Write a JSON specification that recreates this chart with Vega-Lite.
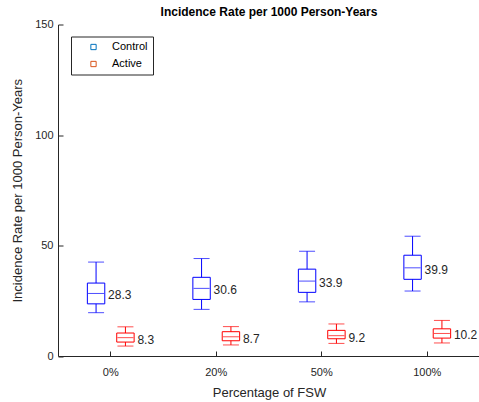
{
  "$schema": "https://vega.github.io/schema/vega-lite/v6.json",
  "autosize": "none",
  "padding": {"left": 58, "top": 24.5, "right": 0, "bottom": 46},
  "width": 422,
  "height": 331.5,
  "background": "white",
  "config": {
    "view": {"stroke": null},
    "font": "Liberation Sans",
    "axis": {"grid": false, "domainColor": "#262626", "tickColor": "#262626", "labelColor": "#262626", "titleColor": "#262626", "labelFontSize": 11, "titleFontSize": 13, "titleFontWeight": "normal", "labelFont": "Liberation Sans", "titleFont": "Liberation Sans"}
  },
  "title": {"text": "Incidence Rate per 1000 Person-Years", "fontSize": 12, "fontWeight": "bold", "color": "#000000", "offset": 0, "font": "Liberation Sans"},
  "data": {"values": [
    {"group": "Control", "pct": "0%", "lo": 19.6, "q1": 23.6, "med": 28.3, "q3": 33.0, "hi": 42.5, "label": "28.3"},
    {"group": "Control", "pct": "20%", "lo": 21.1, "q1": 25.6, "med": 30.6, "q3": 35.6, "hi": 44.1, "label": "30.6"},
    {"group": "Control", "pct": "50%", "lo": 24.5, "q1": 28.8, "med": 33.9, "q3": 39.3, "hi": 47.4, "label": "33.9"},
    {"group": "Control", "pct": "100%", "lo": 29.4, "q1": 34.7, "med": 39.9, "q3": 45.6, "hi": 54.2, "label": "39.9"},
    {"group": "Active", "pct": "0%", "lo": 4.5, "q1": 6.3, "med": 8.3, "q3": 10.4, "hi": 13.2, "label": "8.3"},
    {"group": "Active", "pct": "20%", "lo": 5.0, "q1": 6.9, "med": 8.7, "q3": 11.0, "hi": 13.3, "label": "8.7"},
    {"group": "Active", "pct": "50%", "lo": 5.7, "q1": 7.8, "med": 9.2, "q3": 11.6, "hi": 14.5, "label": "9.2"},
    {"group": "Active", "pct": "100%", "lo": 5.9, "q1": 8.1, "med": 10.2, "q3": 12.3, "hi": 16.1, "label": "10.2"}
  ]},
  "encoding": {
    "x": {"field": "pct", "type": "nominal", "sort": ["0%", "20%", "50%", "100%"],
      "scale": {"paddingInner": 0, "paddingOuter": 0},
      "axis": {"title": "Percentage of FSW", "labelAngle": 0, "tickSize": -5, "labelPadding": 15, "titlePadding": 9}},
    "xOffset": {"field": "group", "type": "nominal", "sort": ["Control", "Active"],
      "scale": {"domain": ["Control", "Active"], "paddingInner": 0.407, "paddingOuter": 1.157}}
  },
  "resolve": {"scale": {"color": "independent"}, "legend": {"color": "independent"}},
  "layer": [
    {
      "layer": [
        {
          "mark": {"type": "rule", "strokeWidth": 1},
          "encoding": {
            "y": {"field": "lo", "type": "quantitative", "scale": {"domain": [0, 150], "nice": false},
              "axis": {"title": "Incidence Rate per 1000 Person-Years", "values": [0, 50, 100, 150], "tickSize": -5, "labelPadding": 10, "titlePadding": 10}},
            "y2": {"field": "q1"},
            "color": {"field": "group", "type": "nominal", "scale": {"domain": ["Control", "Active"], "range": ["#0000ff", "#ff0000"]}, "legend": null}
          }
        },
        {
          "mark": {"type": "rule", "strokeWidth": 1},
          "encoding": {
            "y": {"field": "q3", "type": "quantitative"},
            "y2": {"field": "hi"},
            "color": {"field": "group", "type": "nominal", "legend": null}
          }
        },
        {
          "mark": {"type": "bar", "filled": false, "strokeWidth": 1},
          "encoding": {
            "y": {"field": "q1", "type": "quantitative"},
            "y2": {"field": "q3"},
            "color": {"field": "group", "type": "nominal", "legend": null}
          }
        },
        {
          "mark": {"type": "tick", "thickness": 1, "size": 16},
          "encoding": {
            "y": {"field": "med", "type": "quantitative"},
            "color": {"field": "group", "type": "nominal", "legend": null}
          }
        },
        {
          "mark": {"type": "tick", "thickness": 1, "size": 16},
          "encoding": {
            "y": {"field": "lo", "type": "quantitative"},
            "color": {"field": "group", "type": "nominal", "legend": null}
          }
        },
        {
          "mark": {"type": "tick", "thickness": 1, "size": 16},
          "encoding": {
            "y": {"field": "hi", "type": "quantitative"},
            "color": {"field": "group", "type": "nominal", "legend": null}
          }
        },
        {
          "mark": {"type": "text", "align": "left", "baseline": "middle", "dx": 12, "dy": 2, "fontSize": 12, "color": "#262626", "font": "Liberation Sans"},
          "encoding": {
            "y": {"field": "med", "type": "quantitative"},
            "text": {"field": "label"}
          }
        }
      ]
    },
    {
      "mark": {"type": "point", "filled": false, "shape": "square", "strokeWidth": 1, "opacity": 0},
      "encoding": {
        "y": {"field": "med", "type": "quantitative"},
        "color": {"field": "group", "type": "nominal", "scale": {"domain": ["Control", "Active"], "range": ["#0072BD", "#D95319"]},
          "legend": {"title": null, "orient": "none", "legendX": 13, "legendY": 12, "symbolType": "square", "symbolSize": 28, "symbolStrokeWidth": 1, "symbolOpacity": 1, "labelFontSize": 11, "labelColor": "#000000", "labelFont": "Liberation Sans", "padding": 5, "symbolOffset": 12, "labelOffset": 13, "rowPadding": 5, "strokeColor": "#262626", "fillColor": "white"}}
      }
    }
  ]
}
